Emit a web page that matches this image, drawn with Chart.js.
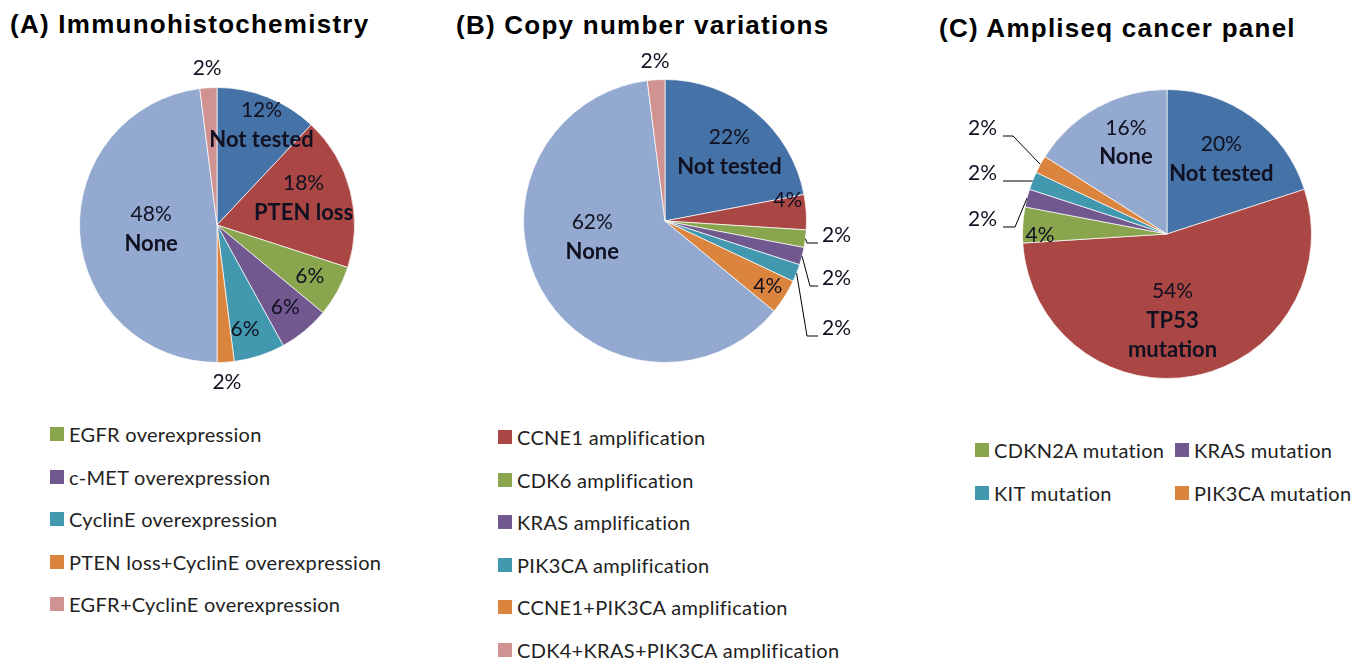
<!DOCTYPE html>
<html>
<head>
<meta charset="utf-8">
<script src="https://cdn.jsdelivr.net/npm/chart.js@4.4.0/dist/chart.umd.min.js"></script>
<style>
body { margin:0; background:#fff; width:1362px; height:659px; position:relative; overflow:hidden; font-family: Lato, sans-serif; }
.title { position:absolute; font: bold 26px "Liberation Sans", Arial, sans-serif; letter-spacing:1.25px; line-height:26px; color:#000; white-space:nowrap; }
canvas { position:absolute; }
.legend { position:absolute; font-size:20px; letter-spacing:0.3px; color:#222; }
.legend .item { display:flex; align-items:center; height:42.5px; white-space:nowrap; }
.legend .box { width:14px; height:14px; margin-right:5px; flex:none; }
#legC { display:grid; grid-template-columns:200px 200px; }
</style>
</head>
<body>
<div class="title" style="left:10px;top:11px">(A) Immunohistochemistry</div>
<div class="title" style="left:456px;top:12px">(B) Copy number variations</div>
<div class="title" style="left:939px;top:15px">(C) Ampliseq cancer panel</div>

<canvas id="pieA"></canvas>
<canvas id="pieB"></canvas>
<canvas id="pieC"></canvas>

<div class="legend" id="legA" style="left:50px;top:413px"></div>
<div class="legend" id="legB" style="left:498px;top:416px"></div>
<div class="legend" id="legC" style="left:975px;top:429px"></div>

<script>
// colours (Excel 2007 palette)
var BLUE = '#4572A7', RED = '#AA4643', GREEN = '#89A54E', PURPLE = '#71588F',
    TEAL = '#4198AF', ORANGE = '#DB843D', LIGHT = '#93A9CF', PINK = '#D19392';

// (A) Immunohistochemistry
var catsA = ['Not tested', 'PTEN loss', 'EGFR overexpression', 'c-MET overexpression',
  'CyclinE overexpression', 'PTEN loss+CyclinE overexpression', 'None', 'EGFR+CyclinE overexpression'];
var valsA = [12, 18, 6, 6, 6, 2, 48, 2];
var colorsA = [BLUE, RED, GREEN, PURPLE, TEAL, ORANGE, LIGHT, PINK];
var onPieA = ['Not tested', 'PTEN loss', 'None'];

// (B) Copy number variations
var catsB = ['Not tested', 'CCNE1 amplification', 'CDK6 amplification', 'KRAS amplification',
  'PIK3CA amplification', 'CCNE1+PIK3CA amplification', 'None', 'CDK4+KRAS+PIK3CA amplification'];
var valsB = [22, 4, 2, 2, 2, 4, 62, 2];
var colorsB = [BLUE, RED, GREEN, PURPLE, TEAL, ORANGE, LIGHT, PINK];
var onPieB = ['Not tested', 'None'];

// (C) Ampliseq cancer panel
var catsC = ['Not tested', 'TP53 mutation', 'CDKN2A mutation', 'KRAS mutation',
  'KIT mutation', 'PIK3CA mutation', 'None'];
var valsC = [20, 54, 4, 2, 2, 2, 16];
var colorsC = [BLUE, RED, GREEN, PURPLE, TEAL, ORANGE, LIGHT];
var onPieC = ['Not tested', 'TP53 mutation', 'None'];

// where each slice label sits (fraction of radius along mid angle, plus nudge)
var specsA = [
  {frac: 0.78, dx: 5}, {frac: 0.65, dy: -5}, {frac: 0.77}, {frac: 0.78},
  {frac: 0.8, dx: -6}, {frac: 1.145}, {frac: 0.48}, {frac: 1.14}
];
var specsB = [
  {frac: 0.67, dx: 4, dy: 4}, {frac: 0.87, dy: -13},
  {lead: {ox: 157, oy: 14, ex: 142, align: 'left'}},
  {lead: {ox: 157, oy: 57, ex: 145, align: 'left'}},
  {lead: {ox: 157, oy: 107, ex: 142, align: 'left'}},
  {frac: 0.86}, {frac: 0.53, dx: -7, dy: -20}, {frac: 1.13}
];
var specsC = [
  {frac: 0.64}, {frac: 0.61, dx: -11, wrap: true}, {frac: 0.88, dy: 9},
  {lead: {ox: -170, oy: -15, ex: -152, align: 'right'}},
  {lead: {ox: -170, oy: -61, ex: -135, align: 'right'}},
  {lead: {ox: -170, oy: -106, ex: -154, align: 'right'}},
  {frac: 0.69, dx: 7, dy: -4}
];

var LBL_FONT = 'Lato, sans-serif';
var LBL_COLOR = '#111122';

// draw percentages / names / leader lines on the slices
var sliceLabels = {
  id: 'sliceLabels',
  afterDatasetsDraw: function (chart, args, opts) {
    var ctx = chart.ctx;
    var meta = chart.getDatasetMeta(0);
    var ds = chart.data.datasets[0];
    ctx.save();
    meta.data.forEach(function (arc, i) {
      var p = arc.getProps(['x', 'y', 'startAngle', 'endAngle', 'outerRadius'], true);
      var spec = opts.specs[i] || {};
      var mid = (p.startAngle + p.endAngle) / 2;
      var name = chart.data.labels[i];
      var lines = [ds.data[i] + '%'];
      if (opts.onPie.indexOf(name) >= 0) {
        lines = lines.concat(spec.wrap ? name.split(' ') : [name]);
      }
      ctx.fillStyle = LBL_COLOR;
      ctx.textBaseline = 'middle';
      if (spec.lead) {
        var L = spec.lead;
        var tx = p.x + L.ox, ty = p.y + L.oy;
        ctx.font = '21px ' + LBL_FONT;
        ctx.textAlign = L.align;
        ctx.fillText(lines[0], tx, ty);
        var ex = p.x + Math.cos(mid) * p.outerRadius;
        var ey = p.y + Math.sin(mid) * p.outerRadius;
        var by = ty + 8;
        var endX = L.align === 'left' ? tx - 4 : tx + 6;
        ctx.strokeStyle = '#000';
        ctx.lineWidth = 1;
        ctx.beginPath();
        ctx.moveTo(ex, ey);
        ctx.lineTo(p.x + L.ex, by);
        ctx.lineTo(endX, by);
        ctx.stroke();
        return;
      }
      var rr = p.outerRadius * spec.frac;
      var cx = p.x + Math.cos(mid) * rr + (spec.dx || 0);
      var cy = p.y + Math.sin(mid) * rr + (spec.dy || 0);
      var lh = 29.5;
      var y0 = cy - (lines.length - 1) * lh / 2;
      ctx.textAlign = 'center';
      lines.forEach(function (t, k) {
        ctx.font = (k === 0 ? '21px ' : 'bold 22px ') + LBL_FONT;
        ctx.fillText(t, cx, y0 + k * lh);
      });
    });
    ctx.restore();
  }
};

function makePie(id, left, top, w, h, cx, cy, r, cats, vals, colors, specs, onPie) {
  var cv = document.getElementById(id);
  cv.style.left = left + 'px';
  cv.style.top = top + 'px';
  cv.width = w;
  cv.height = h;
  var lx = cx - left, ly = cy - top;
  return new Chart(cv, {
    type: 'pie',
    data: {
      labels: cats,
      datasets: [{ data: vals, backgroundColor: colors, borderColor: 'rgba(255,255,255,0.7)', borderWidth: 1 }]
    },
    options: {
      responsive: false,
      animation: false,
      layout: { padding: { left: lx - r, right: w - lx - r, top: ly - r, bottom: h - ly - r } },
      plugins: {
        legend: { display: false },
        tooltip: { enabled: false },
        sliceLabels: { specs: specs, onPie: onPie }
      }
    },
    plugins: [sliceLabels]
  });
}

// legend = every category not already named on the pie
function makeLegend(id, cats, colors, onPie) {
  var el = document.getElementById(id);
  cats.forEach(function (c, i) {
    if (onPie.indexOf(c) >= 0) return;
    var item = document.createElement('div');
    item.className = 'item';
    var box = document.createElement('span');
    box.className = 'box';
    box.style.background = colors[i];
    var txt = document.createElement('span');
    txt.textContent = c;
    item.appendChild(box);
    item.appendChild(txt);
    el.appendChild(item);
  });
}

makePie('pieA', 0, 40, 440, 360, 217, 225, 138, catsA, valsA, colorsA, specsA, onPieA);
makePie('pieB', 450, 40, 450, 360, 665, 221, 142, catsB, valsB, colorsB, specsB, onPieB);
makePie('pieC', 900, 40, 462, 360, 1167, 234, 145, catsC, valsC, colorsC, specsC, onPieC);

makeLegend('legA', catsA, colorsA, onPieA);
makeLegend('legB', catsB, colorsB, onPieB);
makeLegend('legC', catsC, colorsC, onPieC);
</script>
</body>
</html>
